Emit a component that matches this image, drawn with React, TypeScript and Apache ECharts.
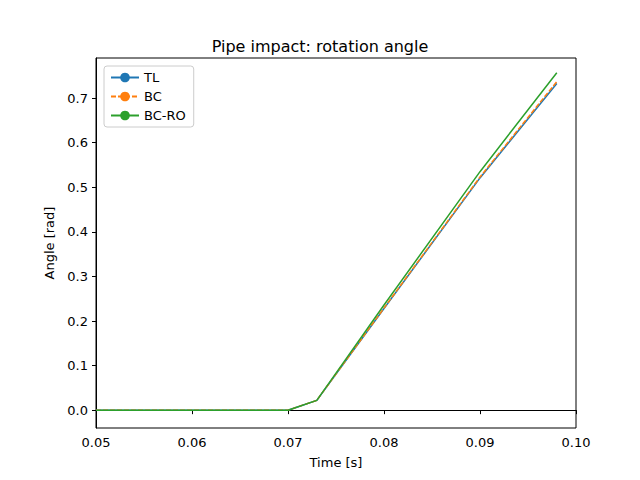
import { useEffect, useRef } from "react";
import * as echarts from "echarts";

const timeS = [0.05, 0.06, 0.07, 0.073, 0.08, 0.09, 0.098];
const angleTL = [0, 0, 0, 0.022, 0.228, 0.521, 0.733];
const angleBC = [0, 0, 0, 0.022, 0.229, 0.523, 0.737];
const angleBCRO = [0, 0, 0, 0.022, 0.236, 0.535, 0.757];
const xTicks = [0.05, 0.06, 0.07, 0.08, 0.09, 0.1];
const yTicks = [0, 0.1, 0.2, 0.3, 0.4, 0.5, 0.6, 0.7];

const pair = (ys: number[]) => timeS.map((t, i) => [t, ys[i]]);

export default function App() {
  const ref = useRef<HTMLDivElement>(null);

  useEffect(() => {
    if (!ref.current) return;
    const chart = echarts.init(ref.current, null, { renderer: "svg" });
    const font = "DejaVu Sans";
    const line = (name: string, ys: number[], color: string, dash?: number[]) => ({
      name, type: "line", data: pair(ys), symbol: "none",
      lineStyle: { color, width: 1.5, type: dash || "solid" },
      itemStyle: { color },
    });
    chart.setOption({
      animation: false,
      textStyle: { fontFamily: font },
      title: {
        text: "Pipe impact: rotation angle",
        left: "center",
        top: 33,
        textStyle: { fontSize: 16, fontWeight: "normal", color: "#000", fontFamily: font },
      },
      grid: {
        left: 96, right: 64, top: 58, bottom: 52,
        show: true, borderColor: "#000", borderWidth: 1,
      },
      legend: {
        orient: "vertical",
        left: 104, top: 66,
        itemWidth: 28, itemHeight: 12, itemGap: 6,
        padding: [5, 8, 5, 6],
        borderColor: "#ccc", borderWidth: 1, borderRadius: 3,
        backgroundColor: "#fff",
        textStyle: { fontSize: 13, color: "#000", fontFamily: font },
      },
      xAxis: {
        type: "value", min: 0.05, max: 0.1,
        name: "Time [s]", nameLocation: "middle", nameGap: 28,
        nameTextStyle: { fontSize: 13, color: "#000" },
        axisLine: { show: true, lineStyle: { color: "#000" } },
        axisTick: { show: true, inside: false, length: 4, customValues: xTicks, lineStyle: { color: "#000" } },
        axisLabel: { customValues: xTicks, color: "#000", fontSize: 13, formatter: (v: number) => v.toFixed(2) },
        splitLine: { show: false },
      },
      yAxis: {
        type: "value", min: -0.04, max: 0.79,
        name: "Angle [rad]", nameLocation: "middle", nameGap: 40,
        nameTextStyle: { fontSize: 13, color: "#000" },
        axisLine: { show: true, lineStyle: { color: "#000" } },
        axisTick: { show: true, inside: false, length: 4, customValues: yTicks, lineStyle: { color: "#000" } },
        axisLabel: { customValues: yTicks, color: "#000", fontSize: 13, formatter: (v: number) => v.toFixed(1) },
        splitLine: { show: false },
      },
      series: [
        line("TL", angleTL, "#1f77b4"),
        line("BC", angleBC, "#ff7f0e", [5, 2]),
        line("BC-RO", angleBCRO, "#2ca02c"),
      ],
    });
    return () => chart.dispose();
  }, []);

  return <div ref={ref} style={{ width: 640, height: 480, margin: -8 }} />;
}
